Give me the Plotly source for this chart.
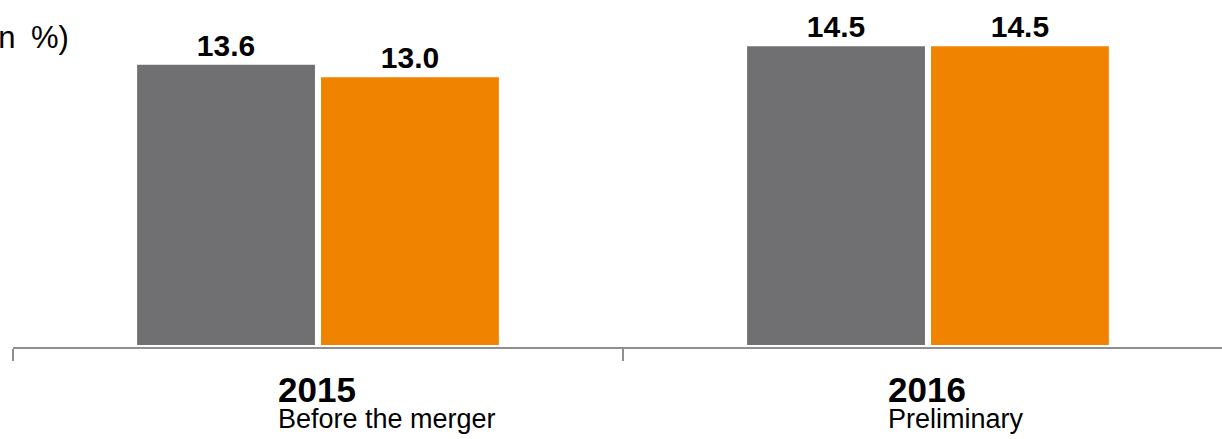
import plotly.graph_objects as go

categories = ["2015", "2016"]
subtitles = ["Before the merger", "Preliminary"]
series_a = [13.6, 14.5]   # grey
series_b = [13.0, 14.5]   # orange
unit_label = "(in\u2002%)"

GREY = "#707073"
ORANGE = "#F08300"
FONT = "Liberation Sans, Arial, sans-serif"

fig = go.Figure()
for vals, col in [(series_a, GREY), (series_b, ORANGE)]:
    fig.add_trace(go.Bar(
        x=categories, y=vals,
        marker=dict(color=col, line=dict(width=0)),
        text=[f"{v:.1f}" for v in vals], textposition="outside",
        textfont=dict(family=FONT, size=30, color="#000000"),
        texttemplate="<b>%{text}</b>", cliponaxis=False,
        showlegend=False, hoverinfo="skip",
    ))

annotations = []
for i, (c, s) in enumerate(zip(categories, subtitles)):
    annotations.append(dict(
        x=i, xref="x", y=0, yref="paper", yanchor="top",
        xanchor="left", xshift=-41, yshift=-22, align="left",
        text=(f"<span style='font-size:35px'><b>{c}</b></span><br>"
              f"<span style='font-size:27px'>{s}</span>"),
        showarrow=False, borderpad=0,
        font=dict(family=FONT, size=20, color="#000000")))
annotations.append(dict(x=0, xref="paper", xshift=58, y=1, yref="paper",
                        yanchor="top", yshift=-18, xanchor="right",
                        text=unit_label, showarrow=False,
                        font=dict(family=FONT, size=31, color="#000000")))

fig.update_layout(
    width=1222, height=439,
    margin=dict(l=13, r=0, t=0, b=92),
    paper_bgcolor="white", plot_bgcolor="white",
    barmode="group", bargap=0.397, bargroupgap=0.033,
    xaxis=dict(type="category", range=[-0.5, 1.482], showline=True,
               linecolor="#8F8F8F", linewidth=2, ticks="outside",
               tickson="boundaries", ticklen=12, tickcolor="#8F8F8F",
               tickwidth=1.5, showticklabels=False, showgrid=False,
               fixedrange=True),
    yaxis=dict(range=[-0.097, 16.748], visible=False, showgrid=False,
               zeroline=False, fixedrange=True),
    annotations=annotations,
)

fig.write_html("out.html", config={"displayModeBar": False},
               post_script="document.body.style.margin='0';document.body.style.overflow='hidden';")
